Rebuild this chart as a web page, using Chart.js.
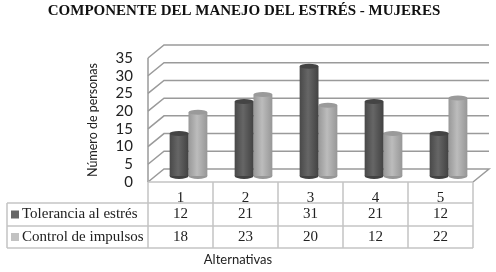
<!DOCTYPE html>
<html lang="en">
<head>
    <meta charset="UTF-8">
    <title>Componente del manejo del estrés - Mujeres</title>
    <script src="https://cdn.jsdelivr.net/npm/chart.js"></script>
    <style>
        body { margin: 0; background: #fff; }
        canvas { display: block; }
    </style>
</head>
<body>
    <canvas id="chart" width="496" height="272"></canvas>
    <script>
        const categories = ['1', '2', '3', '4', '5'];
        const seriesNames = ['Tolerancia al estrés', 'Control de impulsos'];
        const toleranciaValues = [12, 21, 31, 21, 12];
        const controlValues = [18, 23, 20, 12, 22];
        const chartTitle = 'COMPONENTE DEL MANEJO DEL ESTRÉS - MUJERES';
        const yTitle = 'Número de personas';
        const xTitle = 'Alternativas';

        // depth of the fake 3D box, and how far the bars sit inside it
        const depthX = 16, depthY = 13;
        const barShiftX = 8, barShiftY = 6;
        const tableRows = [203, 226, 248];
        const serif = '"Liberation Serif", serif';
        const barStops = [['#484848', '#666666', '#424242'], ['#989898', '#bcbcbc', '#969696']];
        const capColors = ['#444444', '#9a9a9a'];
        const swatchColors = ['#666666', '#c2c2c2'];

        function cylinderFill(c) {
            const x = c.chart.scales.x;
            if (!x || c.dataIndex === undefined) return barStops[c.datasetIndex][1];
            const mid = x.getPixelForValue(c.dataIndex);
            if (!Number.isFinite(mid)) return barStops[c.datasetIndex][1];
            const left = c.datasetIndex === 0 ? mid - 19 : mid;
            const g = c.chart.ctx.createLinearGradient(left, 0, left + 19, 0);
            g.addColorStop(0, barStops[c.datasetIndex][0]);
            g.addColorStop(0.45, barStops[c.datasetIndex][1]);
            g.addColorStop(1, barStops[c.datasetIndex][2]);
            return g;
        }

        const boxPlugin = {
            id: 'box',
            beforeDatasetsDraw(chart) {
                const { ctx, chartArea: a, scales: { y } } = chart;
                ctx.save();
                ctx.strokeStyle = '#9a9a9a';
                ctx.lineWidth = 1.5;
                y.ticks.forEach(t => {
                    const py = y.getPixelForValue(t.value);
                    ctx.beginPath();
                    ctx.moveTo(a.left, py);
                    ctx.lineTo(a.left + depthX, py - depthY);
                    ctx.lineTo(a.right + depthX, py - depthY);
                    if (t.value === 0) ctx.lineTo(a.right, py);
                    ctx.stroke();
                });
                ctx.beginPath();
                ctx.moveTo(a.left, a.top);
                ctx.lineTo(a.left, a.bottom);
                ctx.stroke();
                ctx.restore();

                // bottoms of the cylinders, then move the bars into the box
                ctx.save();
                ctx.translate(barShiftX, -barShiftY);
                chart.data.datasets.forEach((d, i) => {
                    chart.getDatasetMeta(i).data.forEach(el => {
                        ctx.fillStyle = barStops[i][2];
                        ctx.beginPath();
                        ctx.ellipse(el.x, el.base, el.width / 2, 3, 0, 0, Math.PI * 2);
                        ctx.fill();
                    });
                });
            },
            afterDatasetsDraw(chart) {
                const { ctx } = chart;
                chart.data.datasets.forEach((d, i) => {
                    chart.getDatasetMeta(i).data.forEach(el => {
                        ctx.fillStyle = capColors[i];
                        ctx.beginPath();
                        ctx.ellipse(el.x, el.y, el.width / 2, 2.5, 0, 0, Math.PI * 2);
                        ctx.fill();
                    });
                });
                ctx.restore();
            },
            afterDraw(chart) {
                const { ctx, chartArea: a, scales: { x } } = chart;
                ctx.save();
                // data table under the axis
                ctx.strokeStyle = '#c4c4c4';
                ctx.lineWidth = 1.5;
                tableRows.forEach(ry => {
                    ctx.beginPath();
                    ctx.moveTo(7, ry);
                    ctx.lineTo(a.right, ry);
                    ctx.stroke();
                });
                ctx.beginPath();
                ctx.moveTo(a.left, a.bottom);
                ctx.lineTo(a.right, a.bottom);
                ctx.moveTo(7, tableRows[0]);
                ctx.lineTo(7, tableRows[2]);
                const colWidth = (a.right - a.left) / categories.length;
                for (let i = 0; i <= categories.length; i++) {
                    ctx.moveTo(a.left + i * colWidth, a.bottom);
                    ctx.lineTo(a.left + i * colWidth, tableRows[2]);
                }
                ctx.stroke();

                ctx.textBaseline = 'middle';
                ctx.font = '15px ' + serif;
                [toleranciaValues, controlValues].forEach((vals, r) => {
                    const cy = (tableRows[r] + tableRows[r + 1]) / 2;
                    ctx.fillStyle = swatchColors[r];
                    ctx.fillRect(11, cy - 4, 8, 8);
                    ctx.fillStyle = '#222';
                    ctx.textAlign = 'left';
                    ctx.fillText(seriesNames[r], 22, cy);
                    ctx.textAlign = 'center';
                    vals.forEach((v, i) => ctx.fillText(String(v), x.getPixelForValue(i), cy));
                });

                ctx.fillStyle = '#222';
                ctx.font = '13px Lato, sans-serif';
                ctx.fillText(xTitle, 238, 260);

                ctx.fillStyle = '#111';
                ctx.font = 'bold 15px ' + serif;
                ctx.fillText(chartTitle, 244, 11);
                ctx.restore();
            }
        };

        new Chart(document.getElementById('chart').getContext('2d'), {
            type: 'bar',
            data: {
                labels: categories,
                datasets: [
                    { label: seriesNames[0], data: toleranciaValues, backgroundColor: cylinderFill },
                    { label: seriesNames[1], data: controlValues, backgroundColor: cylinderFill }
                ]
            },
            options: {
                responsive: false,
                animation: false,
                categoryPercentage: 0.58,
                barPercentage: 1,
                layout: { padding: { left: 85, right: 23, top: 58, bottom: 0 } },
                plugins: { legend: { display: false }, tooltip: { enabled: false } },
                scales: {
                    y: {
                        min: 0,
                        max: 35,
                        afterFit(s) { s.width = 63; },
                        grid: { display: false, drawTicks: false },
                        border: { display: false },
                        ticks: { stepSize: 5, autoSkip: false, padding: 15, color: '#222', font: { family: 'Lato', size: 15 } },
                        title: { display: true, text: yTitle, color: '#222', padding: { top: 0, bottom: 0 }, font: { family: 'Lato', size: 12.5 } }
                    },
                    x: {
                        afterFit(s) { s.height = 90; },
                        grid: { display: false, drawTicks: false },
                        border: { display: false },
                        ticks: { padding: 7, color: '#222', font: { family: 'Liberation Serif', size: 15 } }
                    }
                }
            },
            plugins: [boxPlugin]
        });
    </script>
</body>
</html>
